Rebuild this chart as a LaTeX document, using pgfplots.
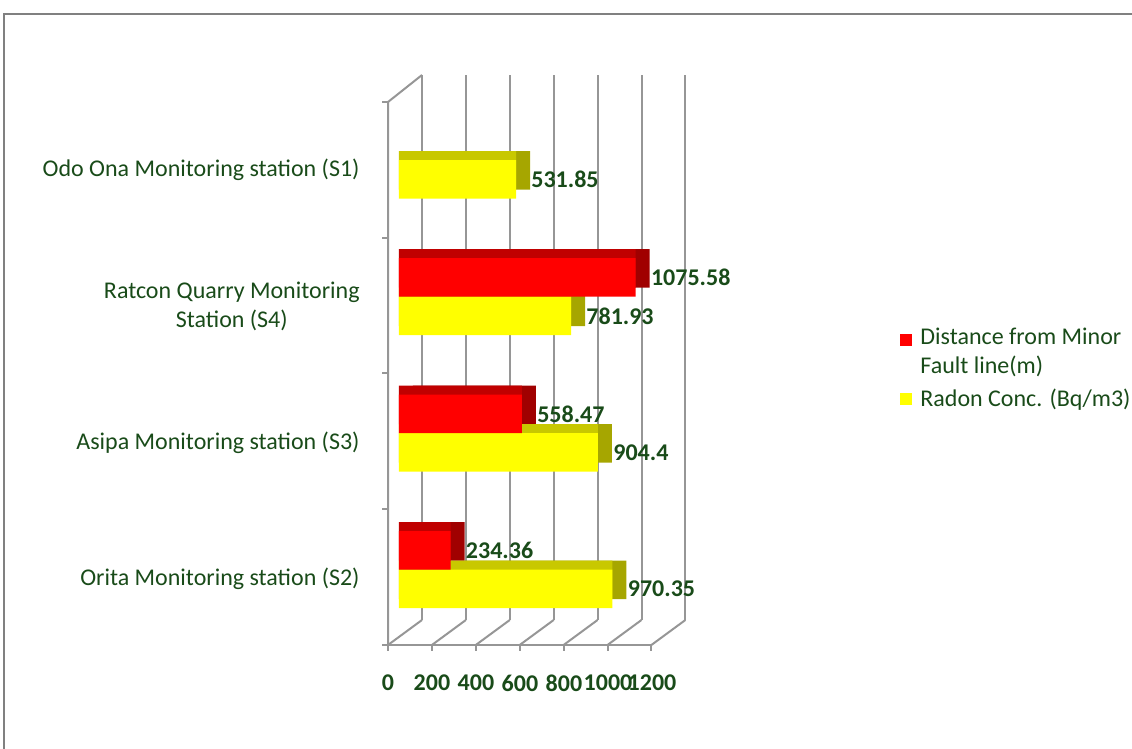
\documentclass[border=0pt]{standalone}
\usepackage{fontspec}
\setmainfont{Carlito}
\usepackage{pgfplots}
\usepackage{pgfplotstable}
\pgfplotsset{compat=1.18}
\definecolor{txtgreen}{RGB}{25,75,25}
\definecolor{redfront}{RGB}{255,0,0}
\definecolor{redtop}{RGB}{192,0,0}
\definecolor{redside}{RGB}{160,0,0}
\definecolor{yelfront}{RGB}{255,255,0}
\definecolor{yeltop}{RGB}{200,200,0}
\definecolor{yelside}{RGB}{166,166,0}
\definecolor{gridgray}{RGB}{150,150,150}
\definecolor{framegray}{RGB}{128,128,128}
\newcommand\chartfont{\fontsize{12}{14.5}\selectfont}

\pgfplotstableread{
v y lab
234.36 0 234.36
558.47 1 558.47
1075.58 2 1075.58
}\redtab
\pgfplotstableread{
v y lab
970.35 0 970.35
904.4 1 904.4
781.93 2 781.93
531.85 3 531.85
}\yeltab

\begin{document}
\begin{tikzpicture}
\useasboundingbox (0,0) rectangle (566pt,374.5pt);
\draw[framegray, line width=1pt] (2pt,0pt) -- (2pt,367.5pt) -- (566pt,367.5pt);
\begin{scope}[gridgray, line width=1pt]
\foreach \k in {0,...,6} {
  \draw ({211pt+21.95pt*\k},64.5pt) -- ({211pt+21.95pt*\k},337pt);
  \draw ({194pt+21.95pt*\k},52pt) -- ({211pt+21.95pt*\k},64.5pt);
  \draw ({194pt+21.95pt*\k},52pt) -- ({194pt+21.95pt*\k},49pt);
}
\draw (194pt,52pt) -- (325.7pt,52pt);
\draw (194pt,52pt) -- (194pt,323.5pt) -- (211pt,337pt);
\foreach \yy in {52,120,187.75,255.5,323.5} \draw (191pt,\yy pt) -- (194pt,\yy pt);
\end{scope}

\begin{axis}[
  at={(199.5pt,55.5pt)}, anchor=south west, scale only axis,
  width=132pt, height=273pt,
  xmin=0, xmax=1200, ymin=-0.5, ymax=3.5,
  axis line style={draw=none}, major tick length=0pt, tick style={draw=none},
  xtick={0,200,400,600,800,1000,1200},
  xticklabels={0,200,400,600,800,1000,1200},
  ytick={0,1,2,3},
  yticklabels={Orita Monitoring station (S2),Asipa Monitoring station (S3),{Ratcon Quarry Monitoring\\Station (S4)},Odo Ona Monitoring station (S1)},
  xticklabel style={anchor=center, xshift=-5.5pt, yshift=-22.5pt, font=\chartfont\bfseries, text=txtgreen, inner sep=0pt},
  yticklabel style={anchor=east, align=center, xshift=-19.5pt, yshift=-4.75pt, font=\chartfont, text=txtgreen, inner sep=0pt},
  clip=false,
  bar width=19.25pt,
  every node near coord/.append style={anchor=west, xshift=7.5pt, inner sep=0pt, font=\chartfont\bfseries, text=txtgreen},
  legend image code/.code={\fill[#1] (0pt,-3pt) rectangle (6pt,3pt);},
  legend cell align=left,
  legend style={at={(1.8977,0.4927)}, anchor=west, draw=none, fill=none, font=\chartfont, text=txtgreen, cells={align=left}, row sep=6pt, column sep=4pt, inner sep=0pt, nodes={inner sep=0pt}},
]
% side faces
\addplot[xbar, bar shift=-9.625pt, fill=yelside, draw=none, xshift=7pt, yshift=4.5pt, forget plot] table[x=v,y=y]{\yeltab};
\addplot[xbar, bar shift=9.625pt, fill=redside, draw=none, xshift=7pt, yshift=4.5pt, forget plot] table[x=v,y=y]{\redtab};
% top faces
\addplot[xbar, bar shift=-9.625pt, fill=yeltop, draw=none, yshift=4.5pt, forget plot] table[x=v,y=y]{\yeltab};
\addplot[xbar, bar shift=9.625pt, fill=redtop, draw=none, yshift=4.5pt, forget plot] table[x=v,y=y]{\redtab};
% front faces
\addplot[xbar, bar shift=-9.625pt, fill=yelfront, draw=none, forget plot, nodes near coords, point meta=explicit symbolic, nodes near coords style={yshift=-9.625pt}] table[x=v,y=y,meta=lab]{\yeltab};
\addplot[xbar, bar shift=9.625pt, fill=redfront, draw=none, forget plot, nodes near coords, point meta=explicit symbolic, nodes near coords style={yshift=9.625pt}] table[x=v,y=y,meta=lab]{\redtab};
\addlegendimage{draw=none, legend image code/.code={\path (0pt,-9.5pt) rectangle (6pt,9.5pt); \fill[redfront] (0pt,3.5pt) rectangle (6pt,9.5pt);}}
\addlegendentry{Distance from Minor\\Fault line(m)}
\addlegendimage{fill=yelfront, draw=none}
\addlegendentry{Radon Conc. (Bq/m3)}
\end{axis}
\end{tikzpicture}
\end{document}
